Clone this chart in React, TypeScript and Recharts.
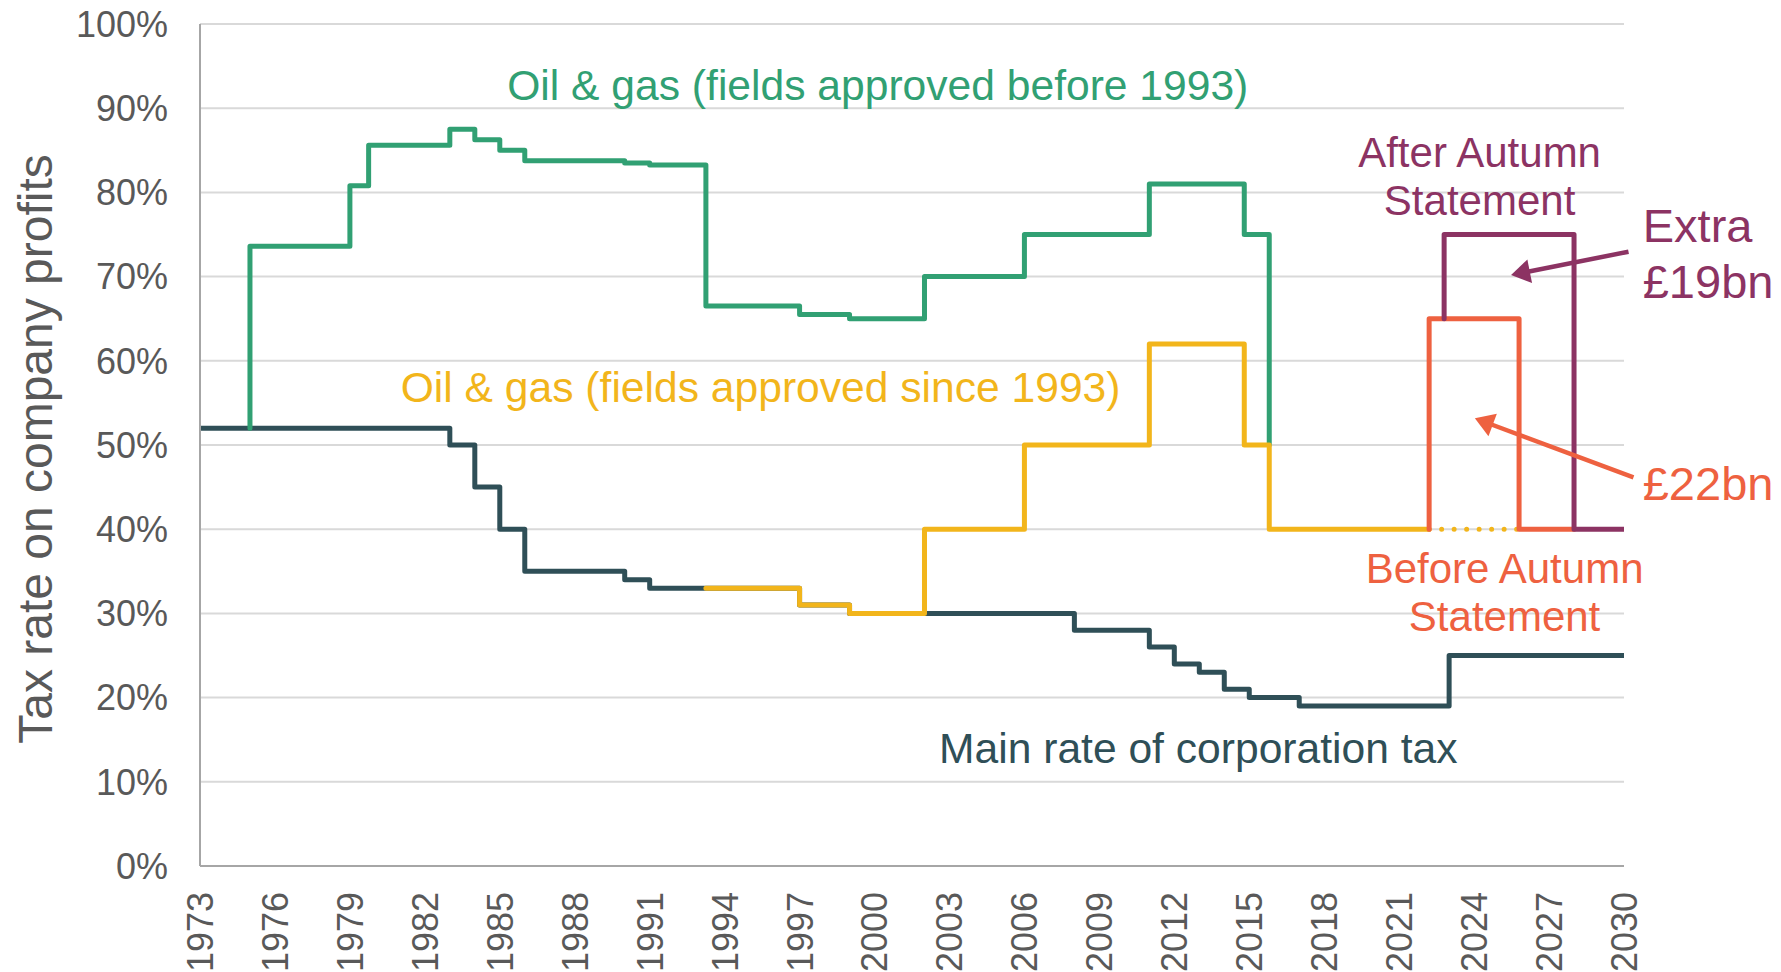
import React from "react";
import {
  LineChart,
  Line,
  XAxis,
  YAxis,
  CartesianGrid,
  ReferenceDot,
  ReferenceLine,
} from "recharts";

// ---------- data ----------
const xTicks = [1973, 1976, 1979, 1982, 1985, 1988, 1991, 1994, 1997, 2000, 2003, 2006, 2009, 2012, 2015, 2018, 2021, 2024, 2027, 2030];
const yTicks = [0, 10, 20, 30, 40, 50, 60, 70, 80, 90, 100];

// Main rate of corporation tax
const corpYears = [1973, 1983, 1984, 1985, 1986, 1990, 1991, 1997, 1999, 2008, 2011, 2012, 2013, 2014, 2015, 2017, 2023, 2030];
const corpRates = [52, 50, 45, 40, 35, 34, 33, 31, 30, 28, 26, 24, 23, 21, 20, 19, 25, 25];

// Oil & gas (fields approved before 1993)
const oldFieldYears = [1975, 1975, 1979, 1979.75, 1983, 1984, 1985, 1986, 1990, 1991, 1993.25, 1997, 1999, 2002, 2006, 2011, 2014.8, 2015.8];
const oldFieldRates = [52, 73.6, 80.8, 85.6, 87.5, 86.25, 85, 83.75, 83.5, 83.25, 66.5, 65.5, 65, 70, 75, 81, 75, 50];

// Oil & gas (fields approved since 1993)
const newFieldYears = [1993.25, 1997, 1999, 2002, 2006, 2011, 2014.8, 2015.8, 2022.2];
const newFieldRates = [33, 31, 30, 40, 50, 62, 50, 40, 40];

// Counterfactual without levy (dotted)
const noLevyYears = [2022.2, 2025.8];
const noLevyRates = [40, 40];

// Before Autumn Statement
const beforeYears = [2022.2, 2022.2, 2025.8, 2028];
const beforeRates = [40, 65, 40, 40];

// After Autumn Statement
const afterYears = [2022.8, 2022.8, 2028, 2030];
const afterRates = [65, 75, 40, 40];

const toPoints = (xs: number[], ys: number[]) => xs.map((x, i) => ({ x, y: ys[i] }));

const corpData = toPoints(corpYears, corpRates);
const oldFieldData = toPoints(oldFieldYears, oldFieldRates);
const newFieldData = toPoints(newFieldYears, newFieldRates);
const noLevyData = toPoints(noLevyYears, noLevyRates);
const beforeData = toPoints(beforeYears, beforeRates);
const afterData = toPoints(afterYears, afterRates);

// ---------- styles ----------
const FONT = "'Liberation Sans', Arial, Helvetica, sans-serif";
const GREEN = "#31A073";
const YELLOW = "#F2B51B";
const DARK = "#2F4F57";
const ORANGE = "#EE6140";
const PURPLE = "#8C3363";
const GREY_TEXT = "#595959";
const LW = 5;

const XTick = (props: any) => {
  const { x, y, payload } = props;
  return (
    <g transform={`translate(${x},${y})`}>
      <text
        transform="rotate(-90)"
        textAnchor="end"
        dy="0.36em"
        fontSize={36}
        fontFamily={FONT}
        fill={GREY_TEXT}
      >
        {payload.value}
      </text>
    </g>
  );
};

const annot = (lines: string[], color: string, size: number, anchor: string, lh: number) =>
  (p: any) => (
    <text
      x={p.cx}
      y={p.cy}
      fill={color}
      fontSize={size}
      fontFamily={FONT}
      textAnchor={anchor as any}
    >
      {lines.map((l, i) => (
        <tspan key={i} x={p.cx} dy={i === 0 ? 0 : lh}>
          {l}
        </tspan>
      ))}
    </text>
  );

const arrowShape = (color: string) => (p: any) => {
  const { x1, y1, x2, y2 } = p;
  const dx = x2 - x1;
  const dy = y2 - y1;
  const len = Math.sqrt(dx * dx + dy * dy);
  const ux = dx / len;
  const uy = dy / len;
  const headLen = 19;
  const headW = 12;
  const bx = x2 - ux * headLen;
  const by = y2 - uy * headLen;
  const px = -uy;
  const py = ux;
  return (
    <g>
      <line x1={x1} y1={y1} x2={bx + ux * 2} y2={by + uy * 2} stroke={color} strokeWidth={4.5} />
      <polygon
        points={`${x2},${y2} ${bx + px * headW},${by + py * headW} ${bx - px * headW},${by - py * headW}`}
        fill={color}
      />
    </g>
  );
};

const YTitle = (props: any) => {
  const vb = props.viewBox || { x: 0, y: 0, width: 0, height: 0 };
  const cx = vb.x + 44;
  const cy = vb.y + vb.height / 2 + 4;
  return (
    <text
      x={cx}
      y={cy}
      transform={`rotate(-90, ${cx}, ${cy})`}
      textAnchor="middle"
      fontSize={48}
      fontFamily={FONT}
      fill={GREY_TEXT}
    >
      Tax rate on company profits
    </text>
  );
};

export default function App() {
  return (
    <div style={{ width: 1765, height: 972, marginTop: -8, background: "#fff" }}>
      <LineChart
        width={1765}
        height={972}
        margin={{ top: 24, right: 149, bottom: 0, left: 0 }}
      >
        <CartesianGrid horizontal vertical={false} stroke="#D9D9D9" strokeWidth={2} />
        <XAxis
          type="number"
          dataKey="x"
          domain={[1973, 2030]}
          ticks={xTicks}
          interval={0}
          height={106}
          tickSize={0}
          tickMargin={26}
          tickLine={false}
          axisLine={{ stroke: "#A6A6A6", strokeWidth: 2 }}
          tick={<XTick />}
          allowDataOverflow
        />
        <YAxis
          type="number"
          dataKey="y"
          domain={[0, 100]}
          ticks={yTicks}
          interval={0}
          width={192}
          tickSize={0}
          tickMargin={32}
          tickLine={false}
          axisLine={{ stroke: "#A6A6A6", strokeWidth: 2 }}
          tickFormatter={(v: number) => `${v}%`}
          tick={{ fontSize: 36, fontFamily: FONT, fill: GREY_TEXT }}
          label={{ content: (p: any) => <YTitle {...p} /> }}
        />

        <Line data={corpData} dataKey="y" type="stepAfter" stroke={DARK} strokeWidth={LW} dot={false} activeDot={false} isAnimationActive={false} strokeLinejoin="round" strokeLinecap="round" />
        <Line data={oldFieldData} dataKey="y" type="stepAfter" stroke={GREEN} strokeWidth={LW} dot={false} activeDot={false} isAnimationActive={false} strokeLinejoin="round" strokeLinecap="round" />
        <Line data={newFieldData} dataKey="y" type="stepAfter" stroke={YELLOW} strokeWidth={LW} dot={false} activeDot={false} isAnimationActive={false} strokeLinejoin="round" strokeLinecap="round" />
        <Line data={noLevyData} dataKey="y" type="stepAfter" stroke={YELLOW} strokeWidth={5} strokeDasharray="0 12.5" strokeLinecap="round" dot={false} activeDot={false} isAnimationActive={false} />
        <Line data={beforeData} dataKey="y" type="stepAfter" stroke={ORANGE} strokeWidth={LW} dot={false} activeDot={false} isAnimationActive={false} strokeLinejoin="round" strokeLinecap="round" />
        <Line data={afterData} dataKey="y" type="stepAfter" stroke={PURPLE} strokeWidth={LW} dot={false} activeDot={false} isAnimationActive={false} strokeLinejoin="round" strokeLinecap="round" />

        <ReferenceLine
          segment={[{ x: 2030.18, y: 72.96 }, { x: 2025.48, y: 70.19 }]}
          ifOverflow="visible"
          shape={arrowShape(PURPLE)}
        />
        <ReferenceLine
          segment={[{ x: 2030.38, y: 46.16 }, { x: 2024.03, y: 53.17 }]}
          ifOverflow="visible"
          shape={arrowShape(ORANGE)}
        />

        <ReferenceDot x={2000.13} y={91.0} r={0} ifOverflow="visible" shape={annot(["Oil & gas (fields approved before 1993)"], GREEN, 42.6, "middle", 0)} />
        <ReferenceDot x={1995.44} y={55.14} r={0} ifOverflow="visible" shape={annot(["Oil & gas (fields approved since 1993)"], YELLOW, 42.6, "middle", 0)} />
        <ReferenceDot x={2012.96} y={12.2} r={0} ifOverflow="visible" shape={annot(["Main rate of corporation tax"], DARK, 42.6, "middle", 0)} />
        <ReferenceDot x={2024.22} y={83.0} r={0} ifOverflow="visible" shape={annot(["After Autumn", "Statement"], PURPLE, 42, "middle", 48)} />
        <ReferenceDot x={2025.22} y={33.65} r={0} ifOverflow="visible" shape={annot(["Before Autumn", "Statement"], ORANGE, 42, "middle", 48)} />
        <ReferenceDot x={2030.75} y={74.1} r={0} ifOverflow="visible" shape={annot(["Extra", "£19bn"], PURPLE, 47, "start", 56)} />
        <ReferenceDot x={2030.75} y={43.5} r={0} ifOverflow="visible" shape={annot(["£22bn"], ORANGE, 47, "start", 0)} />
      </LineChart>
    </div>
  );
}
